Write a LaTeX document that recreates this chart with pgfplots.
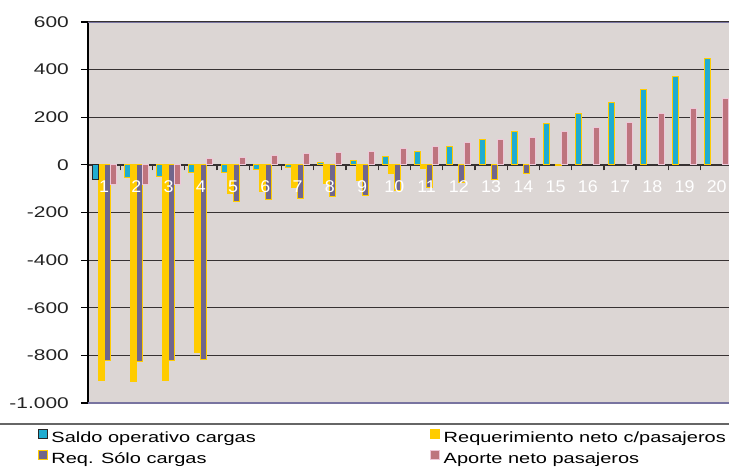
\documentclass[border=0pt]{standalone}
\usepackage{fontspec}
\setmainfont{Liberation Sans}[FakeStretch=1.35]
\newfontfamily\catfont{Liberation Sans}[FakeStretch=1.05]
\usepackage{pgfplots}
\pgfplotsset{compat=1.18}

\definecolor{plotbg}{RGB}{220,214,212}
\definecolor{cteal}{RGB}{32,172,208}
\definecolor{cyellow}{RGB}{255,204,0}
\definecolor{cpurple}{RGB}{112,102,140}
\definecolor{cpink}{RGB}{190,116,126}
\definecolor{cpinkedge}{RGB}{238,200,216}
\definecolor{gridc}{RGB}{55,50,50}
\definecolor{framec}{RGB}{120,116,160}
\definecolor{ticktext}{RGB}{35,35,35}

\begin{document}
\begin{tikzpicture}[x=1pt,y=1pt]
\begin{axis}[
  at={(88pt,64pt)}, anchor=south west,
  scale only axis, width=641pt, height=381pt,
  xmin=0.5, xmax=20.38, ymin=-1000, ymax=600,
  axis x line=middle, axis y line=left,
  axis line style={-},
  x axis line style={draw=gridc, line width=1.3pt},
  y axis line style={draw=black, line width=1.2pt},
  hide obscured x ticks=false, hide obscured y ticks=false,
  axis background/.style={fill=plotbg},
  ybar, bar width=6pt,
  xtick={1,...,20},
  xticklabels={},
  minor xtick={1.5,2.5,...,19.5},
  major x tick style={draw=none},
  minor x tick style={draw=gridc, line width=1.3pt},
  minor tick length=5.5pt,
  major tick length=7pt,
  tick align=outside,
  ytick={-1000,-800,...,600},
  yticklabels={-1.000,-800,-600,-400,-200,0,200,400,600},
  y tick style={draw=black, line width=1.2pt},
  yticklabel style={font=\fontsize{15.5}{16}\selectfont, text=ticktext, inner sep=0pt, xshift=-12pt},
  ymajorgrids,
  major grid style={draw=gridc, line width=1.1pt},
  legend columns=2,
  legend cell align=left,
  legend style={at={(-0.079,-0.068)}, anchor=north west, draw=none, fill=none,
    inner sep=0pt, row sep=4pt,
    font=\fontsize{14.8}{16}\selectfont,
    /tikz/every odd column/.append style={column sep=2pt},
    /tikz/every even column/.append style={column sep=172pt}},
]
% Saldo operativo cargas
\addplot[fill=cteal, draw=cyellow, line width=0.9pt, bar shift=-9pt,
  legend image code/.code={\draw[fill=cteal, draw=black!85, line width=0.9pt] (0pt,0pt) rectangle (9pt,8.5pt);}]
  coordinates {(2,-54) (3,-48) (4,-33) (5,-31) (6,-19) (7,-9) (8,9) (9,19) (10,36)
    (11,58) (12,79) (13,106) (14,140) (15,175) (16,215) (17,261) (18,315) (19,371) (20,445)};
\addlegendentry{Saldo operativo cargas}
% Requerimiento neto con pasajeros
\addplot[fill=cyellow, draw=cyellow, line width=0.9pt, bar shift=-3pt,
  legend image code/.code={\draw[fill=cyellow, draw=cyellow, line width=0.9pt] (0pt,0pt) rectangle (9pt,8.5pt);}]
  coordinates {(1,-906) (2,-908) (3,-904) (4,-788) (5,-118) (6,-110) (7,-93) (8,-76)
    (9,-66) (10,-37) (11,-17)};
\addlegendentry{Requerimiento neto c/pasajeros}
% Requerimiento solo cargas
\addplot[fill=cpurple, draw=cyellow, line width=0.9pt, bar shift=3pt,
  legend image code/.code={\draw[fill=cpurple, draw=cyellow, line width=0.9pt] (0pt,0pt) rectangle (9pt,8.5pt);}]
  coordinates {(1,-820) (2,-825) (3,-821) (4,-818) (5,-152) (6,-146) (7,-142) (8,-131)
    (9,-128) (10,-107) (11,-93) (12,-72) (13,-61) (14,-34) (15,-3)};
\addlegendentry{Req. Sólo cargas}
% Aporte neto pasajeros
\addplot[fill=cpink, draw=cpinkedge, line width=0.9pt, bar shift=9pt,
  legend image code/.code={\draw[fill=cpink, draw=cpinkedge, line width=0.9pt] (0pt,0pt) rectangle (9pt,8.5pt);}]
  coordinates {(1,-83) (2,-83) (3,-83) (4,28) (5,33) (6,38) (7,49) (8,54) (9,58) (10,68)
    (11,79) (12,93) (13,106) (14,117) (15,140) (16,159) (17,180) (18,215) (19,238) (20,280)};
\addlegendentry{Aporte neto pasajeros}
% first year of the freight balance, outlined in dark
\addplot[fill=cteal, draw=black!85, line width=0.9pt, bar shift=-9pt, forget plot]
  coordinates {(1,-62)};
% frame lines at the top and bottom of the plot area
\draw[framec, line width=1.3pt] (rel axis cs:0,1) -- (rel axis cs:1,1);
\draw[framec, line width=1.3pt] (rel axis cs:0,0) -- (rel axis cs:1,0);
% category numbers, written in white just under the zero line, over the bars
\pgfplotsinvokeforeach{1,...,20}{
  \node[anchor=north, inner sep=0pt, yshift=-16pt, text=white,
    font=\catfont\fontsize{17}{17}\selectfont] at (axis cs:#1,0) {#1};
}
\end{axis}
% rule above the legend
\draw[black!60, line width=1.6pt] (0,43) -- (729,43);
\pgfresetboundingbox
\path (0,0) rectangle (729,467);
\end{tikzpicture}
\end{document}
